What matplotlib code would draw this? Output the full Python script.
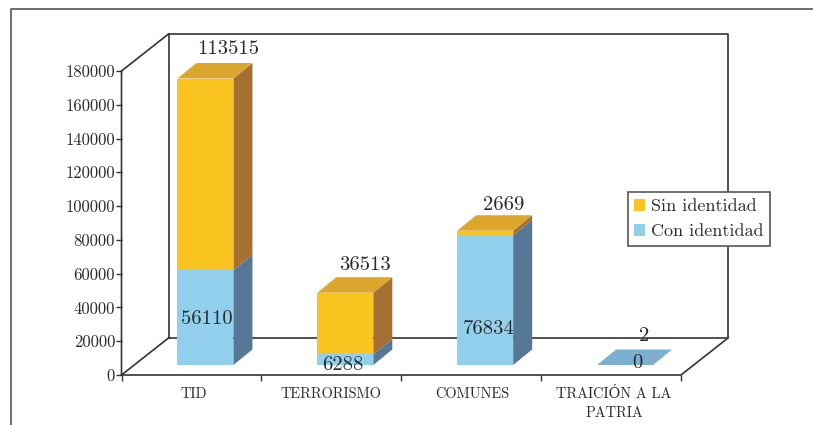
import matplotlib
matplotlib.use("Agg")
import matplotlib.pyplot as plt
from matplotlib.patches import Polygon, Rectangle
from matplotlib.lines import Line2D

categories = ["TID", "TERRORISMO", "COMUNES", "TRAICIÓN A LA\nPATRIA"]
con_identidad = [56110, 6288, 76834, 0]
sin_identidad = [113515, 36513, 2669, 2]
y_ticks = [0, 20000, 40000, 60000, 80000, 100000, 120000, 140000, 160000, 180000]

W, H = 813, 425
FONT = ["cmr10", "DejaVu Serif"]
plt.rcParams["font.family"] = FONT
plt.rcParams["axes.formatter.use_mathtext"] = True
TXT = "#2b2b2b"
LINE = "#333333"

fig = plt.figure(figsize=(W / 100, H / 100), dpi=100, facecolor="white")

# plot box in pixels
L, R, T, B = 121.5, 681.0, 71.0, 375.0
ax = fig.add_axes([L / W, 1 - B / H, (R - L) / W, (B - T) / H])
ax.set_xlim(-0.5, 3.5)
ax.set_ylim(0, 180000)
ax.patch.set_alpha(0)
for s in ax.spines.values():
    s.set_visible(False)

px_x = 4 / (R - L)          # data units per pixel
px_y = 180000 / (B - T)
WALL_DX, WALL_DY = 47 * px_x, 37 * px_y
OFF_X, OFF_Y = 14 * px_x, 10 * px_y
BAR_W = 56 * px_x
BAR_DX, BAR_DY = 19 * px_x, 15.5 * px_y


def line(xs, ys, lw=1.2, color=LINE):
    ax.add_line(Line2D(xs, ys, color=color, lw=lw, clip_on=False, solid_capstyle="projecting", zorder=1))


# walls
line([-0.5, -0.5, -0.5 + WALL_DX], [180000, 0, WALL_DY])
line([-0.5, -0.5 + WALL_DX], [180000, 180000 + WALL_DY])
line([-0.5 + WALL_DX, -0.5 + WALL_DX, 3.5 + WALL_DX, 3.5 + WALL_DX, -0.5 + WALL_DX],
     [WALL_DY, 180000 + WALL_DY, 180000 + WALL_DY, WALL_DY, WALL_DY])
line([-0.5, 3.5, 3.5 + WALL_DX], [0, 0, WALL_DY])


def box(i, y0, y1, front, side, top):
    x0 = i - BAR_W / 2 + OFF_X
    x1 = x0 + BAR_W
    b0, b1 = y0 + OFF_Y, y1 + OFF_Y
    kw = dict(clip_on=False, lw=0, zorder=3)
    if y1 > y0:
        ax.add_patch(Rectangle((x0, b0), BAR_W, y1 - y0, fc=front, **kw))
        ax.add_patch(Polygon([(x1, b0), (x1 + BAR_DX, b0 + BAR_DY),
                              (x1 + BAR_DX, b1 + BAR_DY), (x1, b1)], fc=side, **kw))
    if top:
        ax.add_patch(Polygon([(x0, b1), (x1, b1), (x1 + BAR_DX, b1 + BAR_DY),
                              (x0 + BAR_DX, b1 + BAR_DY)], fc=top, **kw))


BLUE, BLUE_S = "#92cfed", "#567897"
GOLD, GOLD_S, GOLD_T = "#f9c41f", "#a67033", "#dda62d"

for i, (c, s) in enumerate(zip(con_identidad, sin_identidad)):
    if c + s < 100:
        box(i, 0, 0, BLUE, BLUE_S, "#7db0d0")
    else:
        box(i, 0, c, BLUE, BLUE_S, None)
        box(i, c, c + s, GOLD, GOLD_S, GOLD_T)

# value labels: pixel shifts from the bar's centre / top
low_shift = [(1, -1), (-3, -5), (4, -29), (12, 2)]
top_shift = [(23, 29.5), (20, 28), (19, 26), (19, 29)]
FS = 14.9
label_kw = dict(fontsize=FS, color=TXT, ha="center", va="center", clip_on=False, zorder=5)
for i, (c, s) in enumerate(zip(con_identidad, sin_identidad)):
    xc = i + OFF_X
    top = c + s + OFF_Y
    low = c / 2 + OFF_Y
    ax.annotate(str(c), (xc, low), xytext=low_shift[i], textcoords="offset pixels", **label_kw)
    ax.annotate(str(s), (xc, top), xytext=top_shift[i], textcoords="offset pixels", **label_kw)

# ticks
ax.set_yticks(y_ticks)
ax.set_yticklabels([str(v) for v in y_ticks], fontsize=12, color=TXT)
ax.tick_params(axis="y", length=4, width=1, color=LINE, pad=0.6)
ax.set_xticks([-0.5, 0.5, 1.5, 2.5, 3.5])
ax.set_xticklabels([])
ax.tick_params(axis="x", length=4.5, width=1, color=LINE)
cat_shift = [2, 0, 1, 3]
for i, name in enumerate(categories):
    ax.annotate(name, (i, 0), xytext=(cat_shift[i], -12), textcoords="offset pixels",
                ha="center", va="top", fontsize=10.4, color=TXT, linespacing=1.45,
                annotation_clip=False)

# outer frame (open at the right and bottom)
fig.add_artist(Line2D([11 / W, 11 / W, 1], [0, 1 - 9 / H, 1 - 9 / H], color="#555555", lw=1.2))

# legend
handles = [Rectangle((0, 0), 1, 1, fc=GOLD, lw=0), Rectangle((0, 0), 1, 1, fc=BLUE, lw=0)]
leg = fig.legend(handles, ["Sin identidad", "Con identidad"],
                 loc="upper left", bbox_to_anchor=(627.5 / W, 1 - 192.5 / H),
                 borderaxespad=0, fontsize=13, fancybox=False, framealpha=1,
                 edgecolor="#555555", handlelength=0.62, handleheight=0.62,
                 handletextpad=0.3, borderpad=0.36, labelspacing=0.53, labelcolor=TXT)
leg.get_frame().set_linewidth(1.2)
leg.set_zorder(10)

fig.savefig("out.png", dpi=100, facecolor="white")
